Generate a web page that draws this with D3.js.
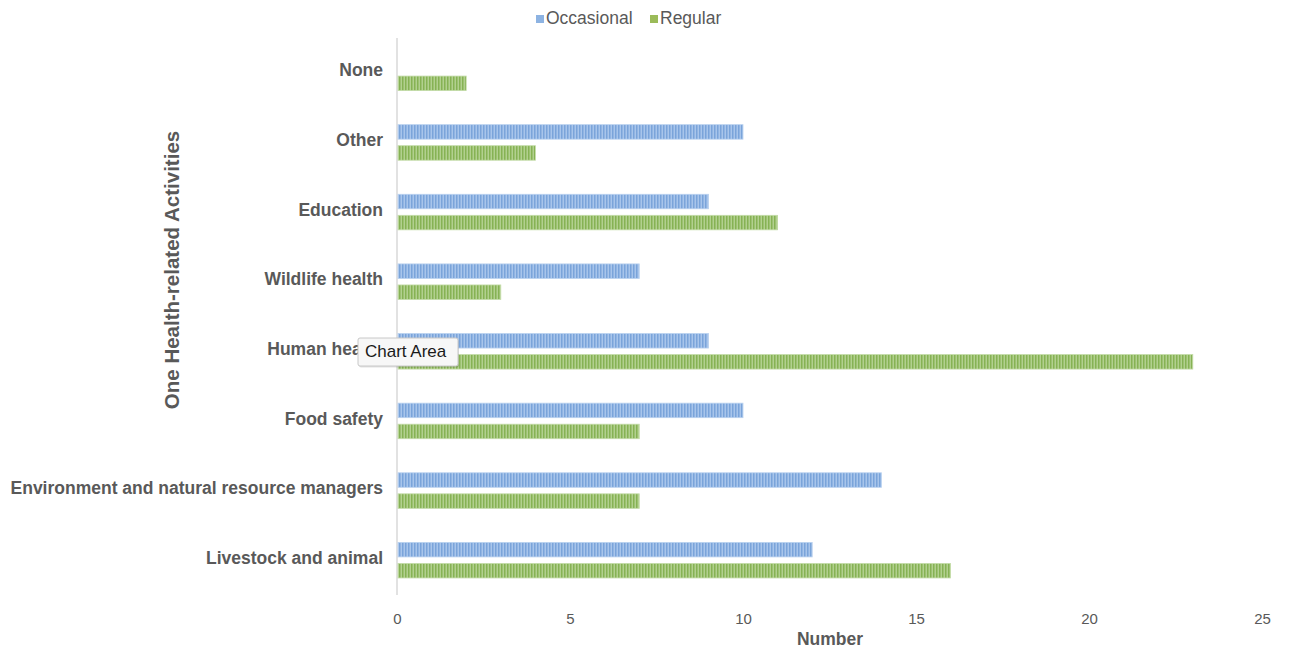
<!DOCTYPE html>
<html>
<head>
<meta charset="utf-8">
<script src="https://cdn.jsdelivr.net/npm/d3@7"></script>
<style>
  html, body { margin: 0; padding: 0; background: #fff; }
  svg { display: block; }
</style>
</head>
<body>
<svg id="chart" width="1290" height="650"></svg>
<script>
// Activity categories, top to bottom
const categories = [
  "None",
  "Other",
  "Education",
  "Wildlife health",
  "Human health",
  "Food safety",
  "Environment and natural resource managers",
  "Livestock and animal"
];
const seriesNames = ["Occasional", "Regular"];
const occasional = [0, 10, 9, 7, 9, 10, 14, 12];
const regular = [2, 4, 11, 3, 23, 7, 7, 16];
const xTicks = [0, 5, 10, 15, 20, 25];

(function () {
  const svg = d3.select("#chart");
  const font = "'Liberation Sans', Arial, Helvetica, sans-serif";
  const textColor = "#595959";

  const plotLeft = 397, plotRight = 1262, plotTop = 38, plotBottom = 595;

  const x = d3.scaleLinear().domain([0, 25]).range([plotLeft, plotRight]);
  const y = d3.scaleBand().domain(categories).range([plotTop, plotBottom]).paddingInner(0).paddingOuter(0);
  const sub = d3.scaleBand().domain(seriesNames).range([0, y.bandwidth()]).paddingInner(0.31).paddingOuter(0.81);

  // Striped fills for the bars
  const defs = svg.append("defs");
  function stripes(id, dark, light) {
    const p = defs.append("pattern")
      .attr("id", id).attr("patternUnits", "userSpaceOnUse")
      .attr("width", 3).attr("height", 10);
    p.append("rect").attr("width", 3).attr("height", 10).attr("fill", light);
    p.append("rect").attr("width", 1.5).attr("height", 10).attr("fill", dark);
  }
  stripes("stripeBlue", "#7aa4da", "#a8c5eb");
  stripes("stripeGreen", "#86b254", "#b2d08f");

  const colors = { Occasional: "url(#stripeBlue)", Regular: "url(#stripeGreen)" };
  const edge = { Occasional: "#b9d1ef", Regular: "#c3dba7" };
  const legendColor = { Occasional: "#8db3e2", Regular: "#9bbb59" };

  // Category axis line
  svg.append("line")
    .attr("x1", plotLeft).attr("x2", plotLeft)
    .attr("y1", plotTop).attr("y2", plotBottom)
    .attr("stroke", "#d9d9d9").attr("stroke-width", 1.5);

  // Bars
  const rows = categories.map((c, i) => ({ c, Occasional: occasional[i], Regular: regular[i] }));
  const groups = svg.append("g").selectAll("g").data(rows).join("g")
    .attr("transform", d => `translate(0,${y(d.c)})`);
  groups.selectAll("rect")
    .data(d => seriesNames.filter(s => d[s] > 0).map(s => ({ s, v: d[s] })))
    .join("rect")
    .attr("x", x(0) + 1)
    .attr("y", d => sub(d.s))
    .attr("width", d => x(d.v) - x(0) - 1)
    .attr("height", sub.bandwidth())
    .attr("fill", d => colors[d.s])
    .attr("stroke", d => edge[d.s])
    .attr("stroke-width", 0.8);

  // Category labels
  svg.append("g").selectAll("text").data(categories).join("text")
    .attr("x", 383)
    .attr("y", d => y(d) + y.bandwidth() / 2 - 1)
    .attr("text-anchor", "end")
    .attr("dominant-baseline", "middle")
    .attr("font-family", font).attr("font-size", 17.5).attr("font-weight", "bold")
    .attr("fill", textColor)
    .text(d => d);

  // Value axis tick labels
  const xAxis = d3.axisBottom(x).tickValues(xTicks).tickSize(0).tickPadding(0);
  const gx = svg.append("g").attr("transform", `translate(0,${plotBottom + 18})`).call(xAxis);
  gx.select(".domain").remove();
  gx.selectAll("text")
    .attr("font-family", font).attr("font-size", 15)
    .attr("fill", textColor).attr("dy", "0.71em");

  // Axis titles
  svg.append("text")
    .attr("x", 830).attr("y", 645)
    .attr("text-anchor", "middle")
    .attr("font-family", font).attr("font-size", 17.5).attr("font-weight", "bold")
    .attr("fill", textColor).text("Number");

  svg.append("text")
    .attr("transform", "translate(179,270) rotate(-90)")
    .attr("text-anchor", "middle")
    .attr("font-family", font).attr("font-size", 20.5).attr("font-weight", "bold")
    .attr("fill", textColor).text("One Health-related Activities");

  // Legend
  const legend = svg.append("g");
  const legendItems = [{ s: "Occasional", x: 536 }, { s: "Regular", x: 650 }];
  legendItems.forEach(item => {
    legend.append("rect")
      .attr("x", item.x).attr("y", 15).attr("width", 8).attr("height", 8)
      .attr("fill", legendColor[item.s]);
    legend.append("text")
      .attr("x", item.x + 10).attr("y", 19)
      .attr("dominant-baseline", "middle")
      .attr("font-family", font).attr("font-size", 17.5)
      .attr("fill", textColor).text(item.s);
  });

  // Hover tooltip box
  const tip = svg.append("g").attr("transform", "translate(358,338)");
  tip.append("rect")
    .attr("x", 1).attr("y", 1.5).attr("width", 100).attr("height", 28)
    .attr("rx", 2).attr("fill", "#000").attr("opacity", 0.12);
  tip.append("rect")
    .attr("width", 100).attr("height", 28).attr("rx", 2)
    .attr("fill", "#f7f7f7").attr("stroke", "#c8c8c8");
  tip.append("text")
    .attr("x", 7).attr("y", 14.5)
    .attr("dominant-baseline", "middle")
    .attr("font-family", font).attr("font-size", 17)
    .attr("fill", "#1a1a1a").text("Chart Area");
})();
</script>
</body>
</html>
